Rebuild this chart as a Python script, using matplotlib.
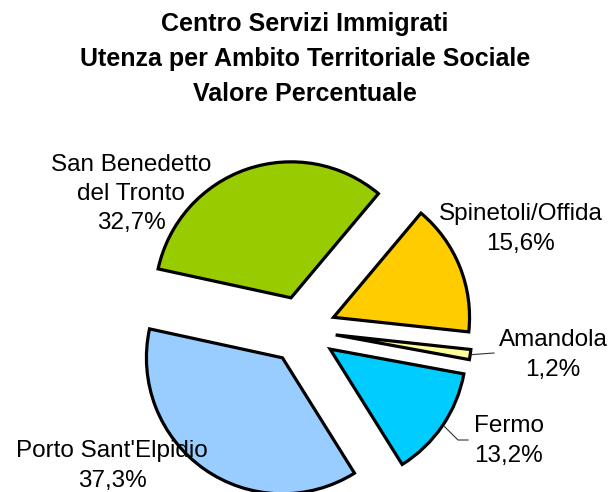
import numpy as np
import matplotlib
matplotlib.use('Agg')
import matplotlib.pyplot as plt

plt.rcParams['font.family'] = ['Liberation Sans', 'DejaVu Sans']

# dati (ordine in senso orario a partire da Spinetoli)
ambiti = ['Spinetoli/Offida', 'Amandola', 'Fermo', "Porto Sant'Elpidio", 'San Benedetto\ndel Tronto']
percentuali = [15.6, 1.2, 13.2, 37.3, 32.7]
colori = ['#FFCC00', '#FFFF99', '#00CCFF', '#99CCFF', '#99CC00']
titolo = 'Centro Servizi Immigrati\nUtenza per Ambito Territoriale Sociale\nValore Percentuale'

W, H = 613, 492
fig = plt.figure(figsize=(W / 100, H / 100), dpi=100)
ax = fig.add_axes([0, 0, 1, 1])

cx, cy, r = 302, H - 330, 136
esplodi = 34  # in unita' dati (pixel)
wedges, _ = ax.pie(percentuali, colors=colori, startangle=50, counterclock=False,
                   explode=[esplodi] * len(percentuali), center=(cx, cy), radius=r,
                   wedgeprops=dict(edgecolor='black', linewidth=2.3))
ax.set_xlim(0, W)
ax.set_ylim(0, H)
ax.axis('off')

# posizioni etichette (pixel, y dall'alto)
pos_etichette = [(521, 229), (553, 355), (509, 441), (112, 466), (131, 194)]
for nome, val, (px, py) in zip(ambiti, percentuali, pos_etichette):
    testo = nome + '\n' + ('%.1f%%' % val).replace('.', ',')
    ax.text(px, H - py, testo, ha='center', va='center', fontsize=17.5,
            linespacing=1.42, color='black')

# linee guida per Amandola e Fermo
def punto_esterno(w):
    ang = np.deg2rad((w.theta1 + w.theta2) / 2)
    cxw, cyw = w.center
    return cxw + r * np.cos(ang), cyw + r * np.sin(ang)

x0, y0 = punto_esterno(wedges[1])
ax.plot([x0 + 2, 494], [y0, H - 353], color='#333333', lw=0.8)
x0, y0 = punto_esterno(wedges[2])
ax.plot([x0 + 2, 458, 468], [y0 - 1, H - 440, H - 440], color='#333333', lw=0.8)

fig.text(305 / W, 1 - 59 / H, titolo, ha='center', va='center', fontsize=18,
         fontweight='bold', linespacing=1.6)

fig.savefig('out.png', dpi=100)
